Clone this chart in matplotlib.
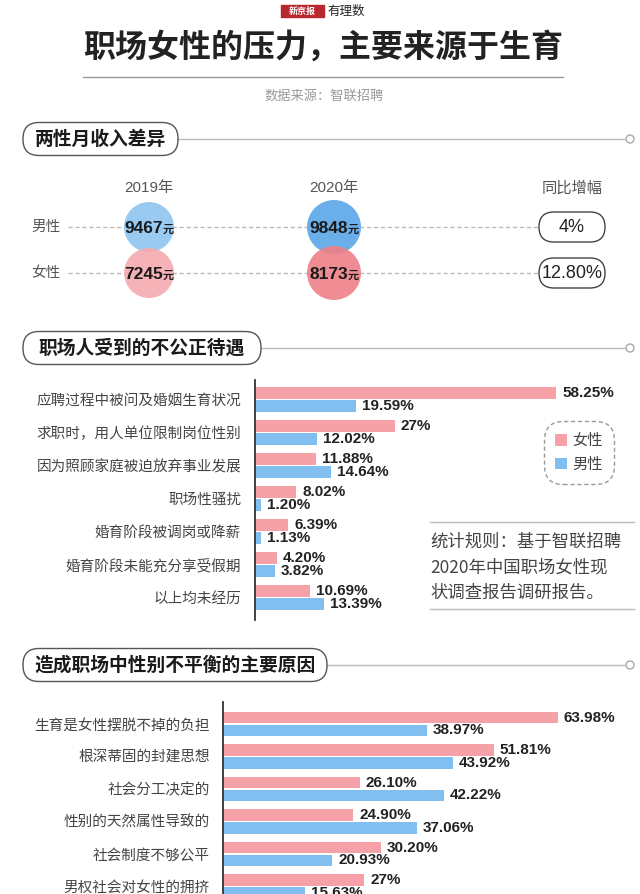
import numpy as np
import matplotlib.pyplot as plt
from matplotlib.patches import FancyBboxPatch, Circle

plt.rcParams['font.family'] = ['Noto Sans CJK SC', 'DejaVu Sans']
NUM = ['Liberation Sans', 'Noto Sans CJK SC']

# 两性月收入差异
years = ['2019年', '2020年']
genders = ['男性', '女性']
income_male = [9467, 9848]
income_female = [7245, 8173]
growth = ['4%', '12.80%']

# 职场人受到的不公正待遇
unfair_items = ['应聘过程中被问及婚姻生育状况', '求职时，用人单位限制岗位性别',
                '因为照顾家庭被迫放弃事业发展', '职场性骚扰', '婚育阶段被调岗或降薪',
                '婚育阶段未能充分享受假期', '以上均未经历']
unfair_female = [58.25, 27, 11.88, 8.02, 6.39, 4.20, 10.69]
unfair_male = [19.59, 12.02, 14.64, 1.20, 1.13, 3.82, 13.39]

# 造成职场中性别不平衡的主要原因
reason_items = ['生育是女性摆脱不掉的负担', '根深蒂固的封建思想', '社会分工决定的',
                '性别的天然属性导致的', '社会制度不够公平', '男权社会对女性的拥挤']
reason_female = [63.98, 51.81, 26.10, 24.90, 30.20, 27]
reason_male = [38.97, 43.92, 42.22, 37.06, 20.93, 15.63]

PINK = '#f6a1a7'
BLUE = '#82bff1'
W, H = 640, 894

fig = plt.figure(figsize=(6.4, 8.94), dpi=100)


def px_axes(x0, y0, x1, y1):
    return fig.add_axes([x0 / W, 1 - y1 / H, (x1 - x0) / W, (y1 - y0) / H])


def fmt(v):
    return f'{int(v)}%' if v == int(v) else f'{v:.2f}%'


bg = px_axes(0, 0, W, H)
bg.set_xlim(0, W)
bg.set_ylim(H, 0)
bg.axis('off')

# logo + title
bg.add_patch(plt.Rectangle((281, 5), 43, 12, color='#b8262e'))
bg.text(302.5, 11, '新京报', color='white', fontsize=6.5, weight='bold',
        ha='center', va='center')
bg.text(327, 11, '有理数', color='#222', fontsize=9, style='italic',
        ha='left', va='center')
bg.text(323, 48, '职场女性的压力，主要来源于生育', fontsize=23, weight='bold',
        color='#222', ha='center', va='center')
bg.plot([83, 563], [77, 77], color='#999', lw=1)
bg.text(324, 96, '数据来源：智联招聘', fontsize=9.5, color='#999',
        ha='center', va='center')


def header(text, y, x1):
    bg.add_patch(FancyBboxPatch((23, y - 16.5), x1 - 23, 33,
                                boxstyle='round,pad=0,rounding_size=16',
                                fc='white', ec='#555', lw=1, zorder=3))
    bg.text((23 + x1) / 2, y, text, fontsize=13.5, weight='bold',
            color='#1a1a1a', ha='center', va='center', zorder=4)
    bg.plot([x1, 626], [y, y], color='#bbb', lw=1)
    bg.add_patch(Circle((630, y), 4, fc='white', ec='#aaa', lw=1))


header('两性月收入差异', 139, 178)
header('职场人受到的不公正待遇', 348, 261)
header('造成职场中性别不平衡的主要原因', 665, 327)

# ---- section 1 ----
col_px = [149, 334]
row_px = [227, 273]
for j, g in enumerate(genders):
    bg.text(45.5, row_px[j], g, fontsize=10.5, color='#555',
            ha='center', va='center')
    bg.plot([68, 539], [row_px[j], row_px[j]], ls=(0, (3, 2)),
            color='#bbb', lw=1)
    bg.add_patch(FancyBboxPatch((539, row_px[j] - 15), 66, 30,
                                boxstyle='round,pad=0,rounding_size=15',
                                fc='white', ec='#444', lw=1))
    bg.text(572, row_px[j], growth[j], fontsize=13, family=NUM,
            color='#222', ha='center', va='center')
for i, yr in enumerate(years):
    bg.text(col_px[i], 188, yr, fontsize=11, family=NUM, color='#555',
            ha='center', va='center')
bg.text(572, 188, '同比增幅', fontsize=11, color='#555',
        ha='center', va='center')

ax1 = px_axes(0, 150, W, 320)
ax1.set_xlim(-col_px[0] / 185, (W - col_px[0]) / 185)
ax1.set_ylim((320 - row_px[0]) / 46, (150 - row_px[0]) / 46)
ax1.axis('off')
male_cols = ['#94c8f2', '#62abe8']
female_cols = ['#f4aab0', '#ef8087']
diam = [50, 54]
for i in range(len(years)):
    s = (diam[i] * 0.72) ** 2
    ax1.scatter([i], [0], s=s, color=male_cols[i], alpha=0.95,
                edgecolors='none', zorder=2)
    ax1.scatter([i], [1], s=s, color=female_cols[i], alpha=0.9,
                edgecolors='none', zorder=3)
    for r, v in enumerate([income_male[i], income_female[i]]):
        ax1.annotate(str(v), (i, r), xytext=(10, -4.5),
                     textcoords='offset points', ha='right', va='baseline',
                     fontsize=12.5, weight='bold', family=NUM, color='#1a1a1a',
                     zorder=5)
        ax1.annotate('元', (i, r), xytext=(10, -4.5),
                     textcoords='offset points', ha='left', va='baseline',
                     fontsize=8, weight='bold', color='#1a1a1a', zorder=5)


# ---- bar charts ----
def bar_chart(ax, items, fem, male, x0, scale, y_top, y_bot, c0, step, pad):
    y = np.arange(len(items))
    off = 6.4 / step
    h = 11.5 / step
    gap = 6 / scale
    ax.barh(y - off, fem, height=h, color=PINK, label='女性')
    ax.barh(y + off, male, height=h, color=BLUE, label='男性')
    for yi, v in zip(y, fem):
        ax.text(v + gap, yi - off, fmt(v), va='center', ha='left',
                fontsize=11, weight='bold', family=NUM, color='#222')
    for yi, v in zip(y, male):
        ax.text(v + gap, yi + off, fmt(v), va='center', ha='left',
                fontsize=11, weight='bold', family=NUM, color='#222')
    ax.set_xlim(0, (W - x0) / scale)
    ax.set_ylim((y_bot - c0) / step, (y_top - c0) / step)
    for s in ['top', 'right', 'bottom']:
        ax.spines[s].set_visible(False)
    ax.spines['left'].set_color('#333')
    ax.spines['left'].set_linewidth(1.3)
    ax.set_xticks([])
    ax.set_yticks(y, items, fontsize=10.5, color='#444')
    ax.tick_params(axis='y', length=0, pad=pad)
    ax.patch.set_alpha(0)


ax2 = px_axes(255, 380, W, 620)
bar_chart(ax2, unfair_items, unfair_female, unfair_male, 255, 5.17,
          380, 620, 399.5, 33, 10)
leg = ax2.legend(loc='center', bbox_to_anchor=(579 / W, 1 - 452.5 / H),
                 bbox_transform=fig.transFigure, fontsize=11, framealpha=1,
                 handlelength=0.8, handleheight=0.8, handletextpad=0.35,
                 labelspacing=0.45, borderpad=0.7)
frame = leg.get_frame()
frame.set_linestyle((0, (3, 2)))
frame.set_edgecolor('#999')
frame.set_boxstyle('round', pad=0, rounding_size=1.2)
for t in leg.get_texts():
    t.set_color('#444')

# note
bg.plot([430, 634], [522, 522], color='#bbb', lw=1)
bg.plot([430, 634], [609, 609], color='#bbb', lw=1)
note = ['统计规则：基于智联招聘', '2020年中国职场女性现', '状调查报告调研报告。']
for k, line in enumerate(note):
    bg.text(430, 542 + 25.5 * k, line, fontsize=12.5, color='#444',
            ha='left', va='center')

ax3 = px_axes(223, 702, W, H)
bar_chart(ax3, reason_items, reason_female, reason_male, 223, 5.23,
          702, H, 724, 32.5, 9.5)

fig.savefig('out.png', dpi=100, facecolor='white')
